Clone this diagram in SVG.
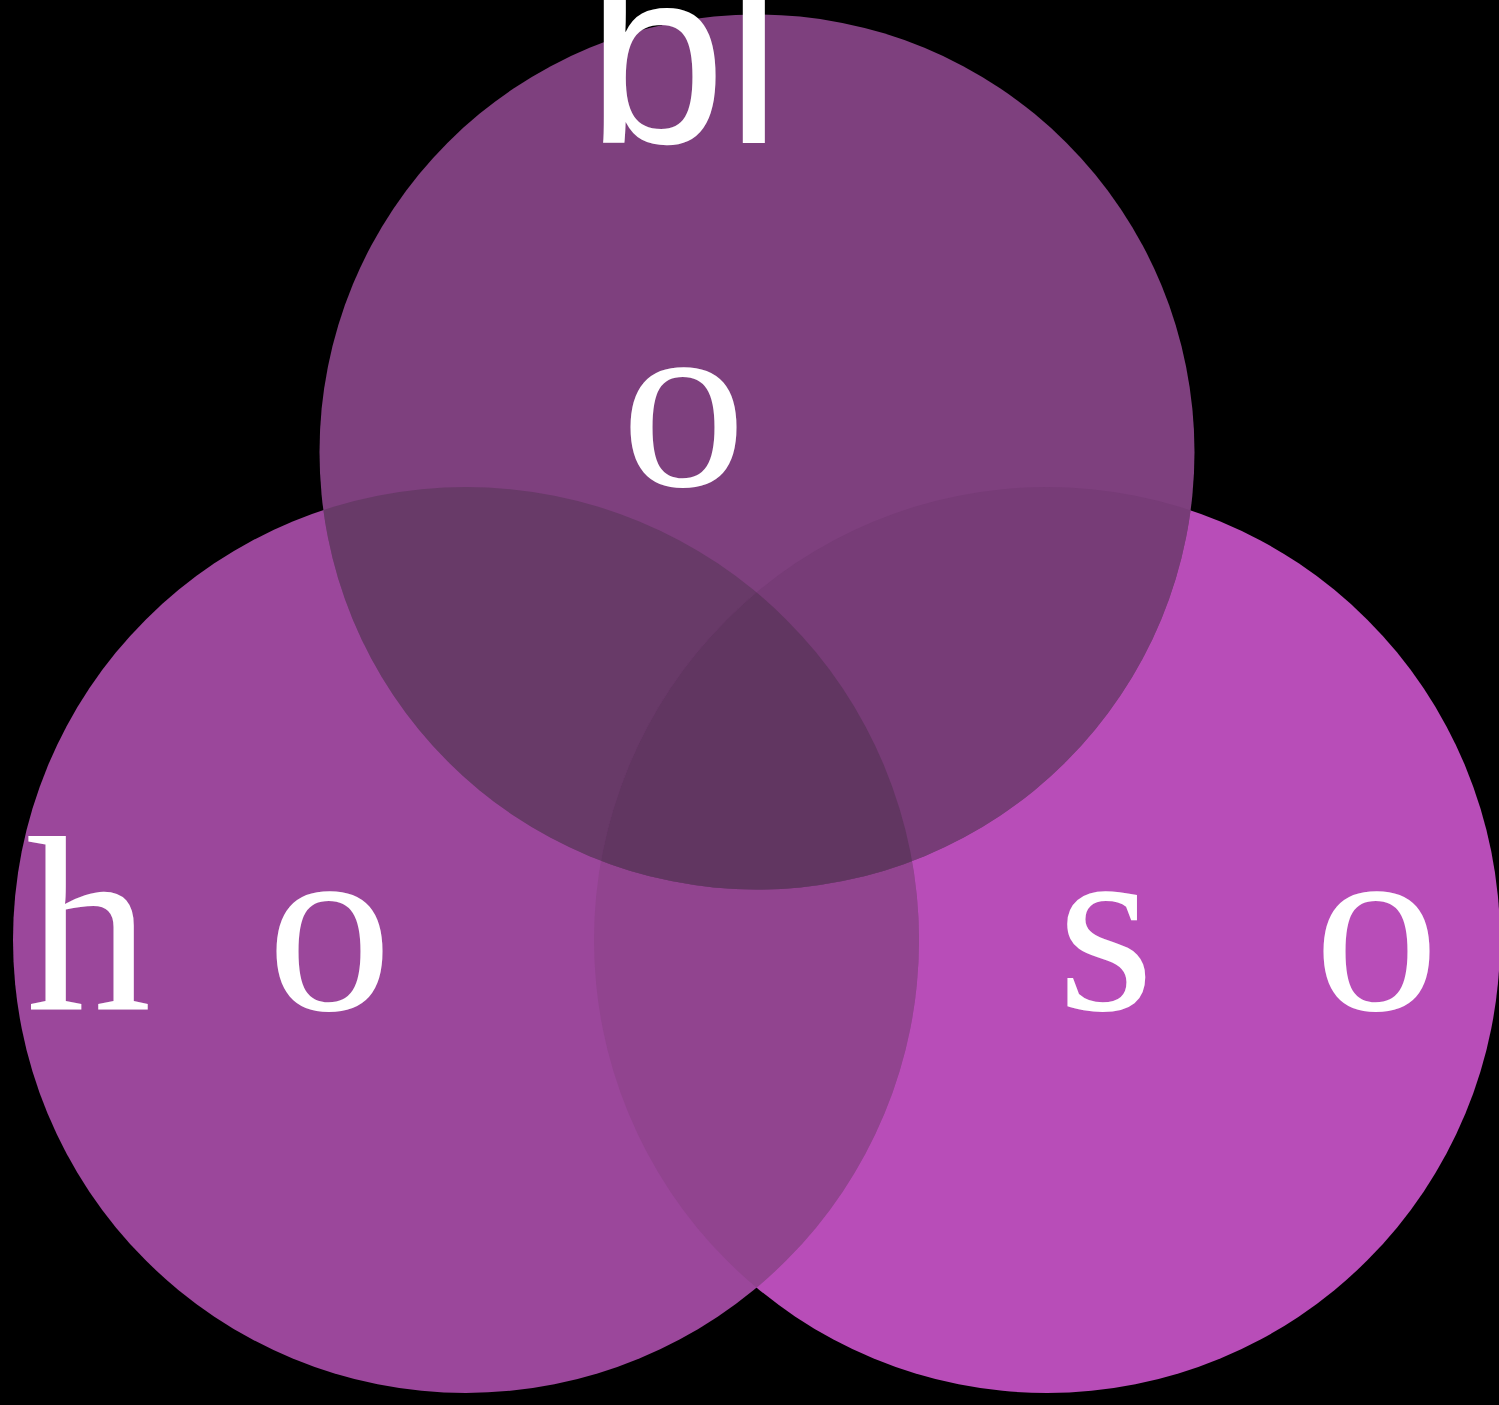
<svg xmlns="http://www.w3.org/2000/svg" width="1499" height="1405" viewBox="0 0 1499 1405">
  <defs>
    <clipPath id="clipTop"><circle cx="757" cy="452" r="437.5"/></clipPath>
    <clipPath id="clipLeft"><circle cx="466" cy="940" r="453"/></clipPath>
    <clipPath id="clipRight"><circle cx="1047" cy="940" r="453"/></clipPath>
  </defs>
  <rect x="0" y="0" width="1499" height="1405" fill="#000000"/>

  <g id="set-right"><circle cx="1047" cy="940" r="453" fill="#b84db8"/></g>
  <g id="set-left"><circle cx="466" cy="940" r="453" fill="#9b479b"/></g>
  <g id="set-top"><circle cx="757" cy="452" r="437.5" fill="#7e407e"/></g>

  <g id="overlaps">
    <circle cx="466" cy="940" r="453" fill="#91448f" clip-path="url(#clipRight)"/>
    <circle cx="466" cy="940" r="453" fill="#683a68" clip-path="url(#clipTop)"/>
    <circle cx="1047" cy="940" r="453" fill="#773c77" clip-path="url(#clipTop)"/>
    <g clip-path="url(#clipRight)">
      <circle cx="466" cy="940" r="453" fill="#613661" clip-path="url(#clipTop)"/>
    </g>
  </g>

  <g id="labels" fill="#ffffff" font-size="250">
    <g id="label-top">
      <text style="font-family:'Liberation Sans','Arimo',Arial,Helvetica,sans-serif" x="587" y="143">bl</text>
      <text style="font-family:'Liberation Serif','Tinos','Times New Roman',Times,'Nimbus Roman','Noto Serif',serif" x="621" y="486">o</text>
    </g>
    <g id="label-left">
      <text style="font-family:'Liberation Serif','Tinos','Times New Roman',Times,'Nimbus Roman','Noto Serif',serif" x="26 151 267" y="1010">h o</text>
    </g>
    <g id="label-right">
      <text style="font-family:'Liberation Serif','Tinos','Times New Roman',Times,'Nimbus Roman','Noto Serif',serif" x="1057 1160 1314" y="1010">s o</text>
    </g>
  </g>
</svg>
